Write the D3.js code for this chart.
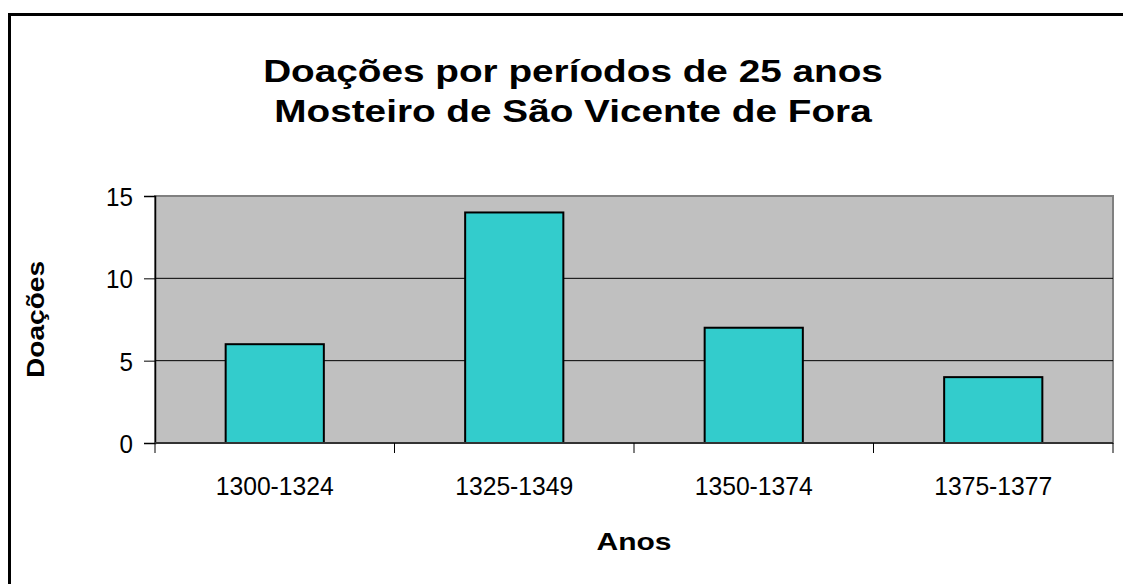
<!DOCTYPE html>
<html>
<head>
<meta charset="utf-8">
<script src="https://cdn.jsdelivr.net/npm/d3@7"></script>
<style>
  body { margin: 0; background: #fff; }
  text { font-family: "Liberation Sans", Arial, sans-serif; fill: #000; }
</style>
</head>
<body>
<div id="chart"></div>
<script>
// data
const periods = ["1300-1324", "1325-1349", "1350-1374", "1375-1377"];
const donations = [6, 14, 7, 4];
const yTicks = [0, 5, 10, 15];
const titleLines = ["Doações por períodos de 25 anos", "Mosteiro de São Vicente de Fora"];

const width = 1123, height = 584;
const plot = {left: 155, right: 1113, top: 196, bottom: 443};

const svg = d3.select("#chart").append("svg")
  .attr("width", width)
  .attr("height", height);

// adjust text width, the original font renders at other proportions than Liberation
function stretch(sel, k) {
  sel.each(function () {
    const w = this.getComputedTextLength();
    d3.select(this).attr("textLength", w * k).attr("lengthAdjust", "spacingAndGlyphs");
  });
}

// outer frame (runs off the right and bottom edges)
svg.append("rect")
  .attr("x", 9.5).attr("y", 14.5)
  .attr("width", 1200).attr("height", 700)
  .attr("fill", "none")
  .attr("stroke", "#000")
  .attr("stroke-width", 3);

const x = d3.scaleBand()
  .domain(periods)
  .range([plot.left, plot.right]);

const y = d3.scaleLinear()
  .domain([0, 15])
  .range([plot.bottom, plot.top]);

// plot area
svg.append("rect")
  .attr("x", plot.left).attr("y", plot.top)
  .attr("width", plot.right - plot.left)
  .attr("height", plot.bottom - plot.top)
  .attr("fill", "#c0c0c0")
  .attr("stroke", "#808080")
  .attr("stroke-width", 2);

// gridlines
svg.append("g")
  .selectAll("line")
  .data(yTicks.filter(d => d > 0 && d < 15))
  .join("line")
  .attr("x1", plot.left).attr("x2", plot.right)
  .attr("y1", d => y(d)).attr("y2", d => y(d))
  .attr("stroke", "#000")
  .attr("stroke-width", 1);

// bars
const barW = x.bandwidth() * 0.41;
svg.append("g")
  .selectAll("rect")
  .data(donations)
  .join("rect")
  .attr("x", (d, i) => x(periods[i]) + (x.bandwidth() - barW) / 2)
  .attr("y", d => y(d))
  .attr("width", barW)
  .attr("height", d => y(0) - y(d))
  .attr("fill", "#33cccc")
  .attr("stroke", "#000")
  .attr("stroke-width", 2);

// y axis
const yAxis = svg.append("g")
  .attr("transform", `translate(${plot.left},0)`)
  .call(d3.axisLeft(y).tickValues(yTicks).tickSize(11).tickPadding(11));
yAxis.select(".domain").attr("stroke", "#000").attr("stroke-width", 1.5);
yAxis.selectAll(".tick line").attr("stroke", "#000");
yAxis.selectAll(".tick text")
  .attr("font-size", 26)
  .attr("font-family", "Liberation Sans, Arial, sans-serif")
  .attr("dy", "0.36em")
  .call(stretch, 0.93);

// x axis: ticks on the category boundaries
const xAxis = svg.append("g")
  .attr("transform", `translate(0,${plot.bottom})`);
xAxis.append("line")
  .attr("x1", plot.left).attr("x2", plot.right)
  .attr("stroke", "#333").attr("stroke-width", 2);
xAxis.selectAll("line.tk")
  .data(periods.map(p => x(p)).concat([plot.right]))
  .join("line")
  .attr("class", "tk")
  .attr("x1", d => d).attr("x2", d => d)
  .attr("y1", 0).attr("y2", 10)
  .attr("stroke", "#000");
xAxis.selectAll("text")
  .data(periods)
  .join("text")
  .attr("x", d => x(d) + x.bandwidth() / 2)
  .attr("y", 52)
  .attr("text-anchor", "middle")
  .attr("font-size", 26)
  .text(d => d)
  .call(stretch, 0.95);

// axis titles
svg.append("text")
  .attr("x", (plot.left + plot.right) / 2)
  .attr("y", 550)
  .attr("text-anchor", "middle")
  .attr("font-size", 24)
  .attr("font-weight", "bold")
  .text("Anos")
  .call(stretch, 1.25);

svg.append("text")
  .attr("transform", `translate(44,${(plot.top + plot.bottom) / 2}) rotate(-90)`)
  .attr("text-anchor", "middle")
  .attr("font-size", 24)
  .attr("font-weight", "bold")
  .text("Doações")
  .call(stretch, 1.17);

// title
svg.append("g")
  .selectAll("text")
  .data(titleLines)
  .join("text")
  .attr("x", 573)
  .attr("y", (d, i) => 82 + i * 40)
  .attr("text-anchor", "middle")
  .attr("font-size", 32)
  .attr("font-weight", "bold")
  .text(d => d)
  .call(stretch, 1.21);
</script>
</body>
</html>
